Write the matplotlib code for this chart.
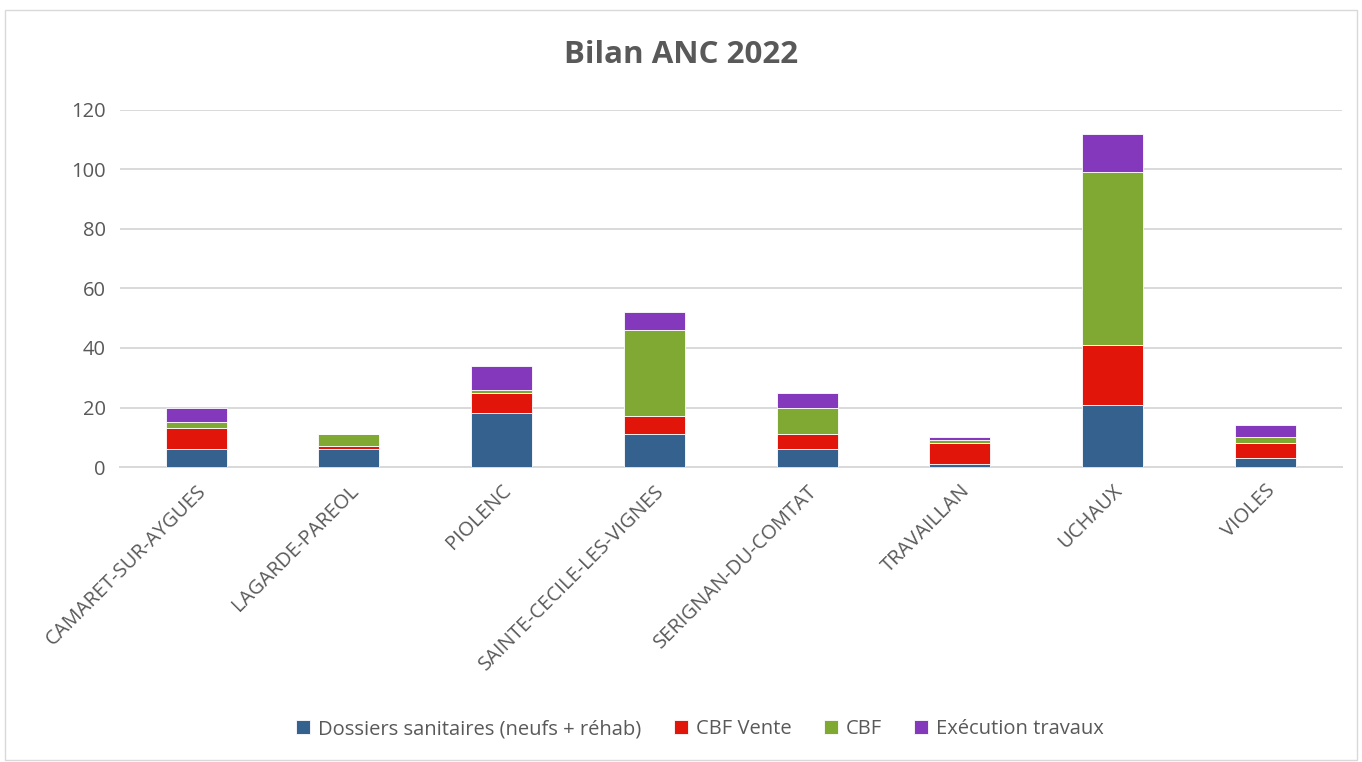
import matplotlib.pyplot as plt
import numpy as np

communes = ['CAMARET-SUR-AYGUES', 'LAGARDE-PAREOL', 'PIOLENC', 'SAINTE-CECILE-LES-VIGNES',
            'SERIGNAN-DU-COMTAT', 'TRAVAILLAN', 'UCHAUX', 'VIOLES']
dossiers = [6, 6, 18, 11, 6, 1, 21, 3]
cbf_vente = [7, 1, 7, 6, 5, 7, 20, 5]
cbf = [2, 4, 1, 29, 9, 1, 58, 2]
execution = [5, 0, 8, 6, 5, 1, 13, 4]

series = [
    ('Dossiers sanitaires (neufs + réhab)', dossiers, '#35618F'),
    ('CBF Vente', cbf_vente, '#E2150A'),
    ('CBF', cbf, '#80A933'),
    ('Exécution travaux', execution, '#8439BD'),
]

plt.rcParams['font.family'] = ['Open Sans', 'DejaVu Sans']

fig = plt.figure(figsize=(13.62, 7.62), dpi=100)
ax = fig.add_axes([0.088, 0.387, 0.897, 0.469])

x = np.arange(len(communes))
bottom = np.zeros(len(communes))
for name, vals, color in series:
    ax.bar(x, vals, 0.4, bottom=bottom, color=color, label=name,
           edgecolor='white', linewidth=0.6, zorder=3)
    bottom += np.array(vals)

ax.set_xlim(-0.5, len(communes) - 0.5)
ax.set_ylim(0, 120)
ax.set_yticks(range(0, 121, 20))
ax.grid(axis='y', color='#D9D9D9', linewidth=1.4, zorder=0)
for s in ['top', 'right', 'left']:
    ax.spines[s].set_visible(False)
ax.spines['bottom'].set_color('#D9D9D9')
ax.spines['bottom'].set_linewidth(1.4)
ax.tick_params(length=0, labelsize=14.5, colors='#595959', pad=10)
ax.set_xticks(x)
ax.set_xticklabels(communes, rotation=45, ha='right', rotation_mode='anchor')

fig.text(0.5, 0.928, 'Bilan ANC 2022', ha='center', va='center',
         fontsize=22.5, fontweight='bold', color='#595959')

handles, labels = ax.get_legend_handles_labels()
fig.legend(handles, labels, loc='center', bbox_to_anchor=(0.514, 0.043),
           ncol=4, frameon=False, fontsize=14.5, handlelength=0.7, handleheight=0.7,
           columnspacing=1.6, handletextpad=0.4, labelcolor='#595959')

border = plt.Rectangle((0.004, 0.003), 0.992, 0.984, transform=fig.transFigure,
                       fill=False, edgecolor='#D9D9D9', linewidth=1)
fig.add_artist(border)

fig.savefig('out.png', dpi=100)
